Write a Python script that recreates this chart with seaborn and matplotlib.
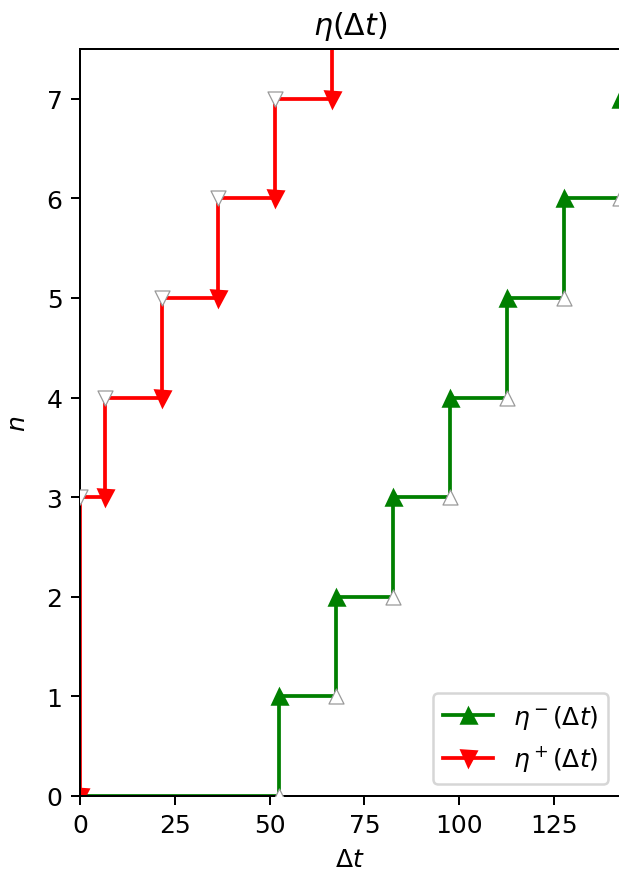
import numpy as np
import matplotlib
matplotlib.use("Agg")
import matplotlib.pyplot as plt
import seaborn as sns

# jump times and counts
green_dt = [0, 52.5, 67.5, 82.5, 97.5, 112.5, 127.5, 142.5]
green_n = [0, 1, 2, 3, 4, 5, 6, 7]
red_dt = [0, 6.5, 21.5, 36.5, 51.5, 66.5, 81.5]
red_n = [0, 3, 4, 5, 6, 7, 8]

n_ticks = [0, 1, 2, 3, 4, 5, 6, 7]
dt_ticks = [0, 25, 50, 75, 100, 125]

fig = plt.figure(figsize=(619 / 180, 877 / 180), dpi=180)
ax = fig.add_axes([80 / 619, 80 / 877, 540.5 / 619, 747 / 877])

# eta^- : right-continuous steps, filled marker on top of each jump
sns.lineplot(x=green_dt, y=green_n, ax=ax, color="green", marker="^",
             drawstyle="steps-post", mec="green", mew=1.0,
             label=r"$\eta^-(\Delta t)$")
# value just before each jump (hollow)
sns.scatterplot(x=green_dt[1:], y=green_n[:-1], ax=ax, marker="^", s=36,
                facecolor="white", edgecolor="0.6", linewidth=0.5,
                legend=False, zorder=3)

# eta^+ : left-continuous steps, filled marker at bottom of each jump
sns.lineplot(x=red_dt, y=red_n, ax=ax, color="red", marker="v",
             drawstyle="steps-pre", mec="red", mew=1.0,
             label=r"$\eta^+(\Delta t)$")
sns.scatterplot(x=red_dt[:-1], y=red_n[1:], ax=ax, marker="v", s=36,
                facecolor="white", edgecolor="0.6", linewidth=0.5,
                legend=False, zorder=3)

ax.set_xlim(0, 142.5)
ax.set_ylim(0, 7.5)
ax.set_xticks(dt_ticks)
ax.set_yticks(n_ticks)
ax.set_xlabel(r"$\Delta t$")
ax.set_ylabel(r"$n$", labelpad=6.5)
ax.set_title(r"$\eta(\Delta t)$")
ax.legend(loc="lower right")

fig.savefig("out.png", dpi=180)
